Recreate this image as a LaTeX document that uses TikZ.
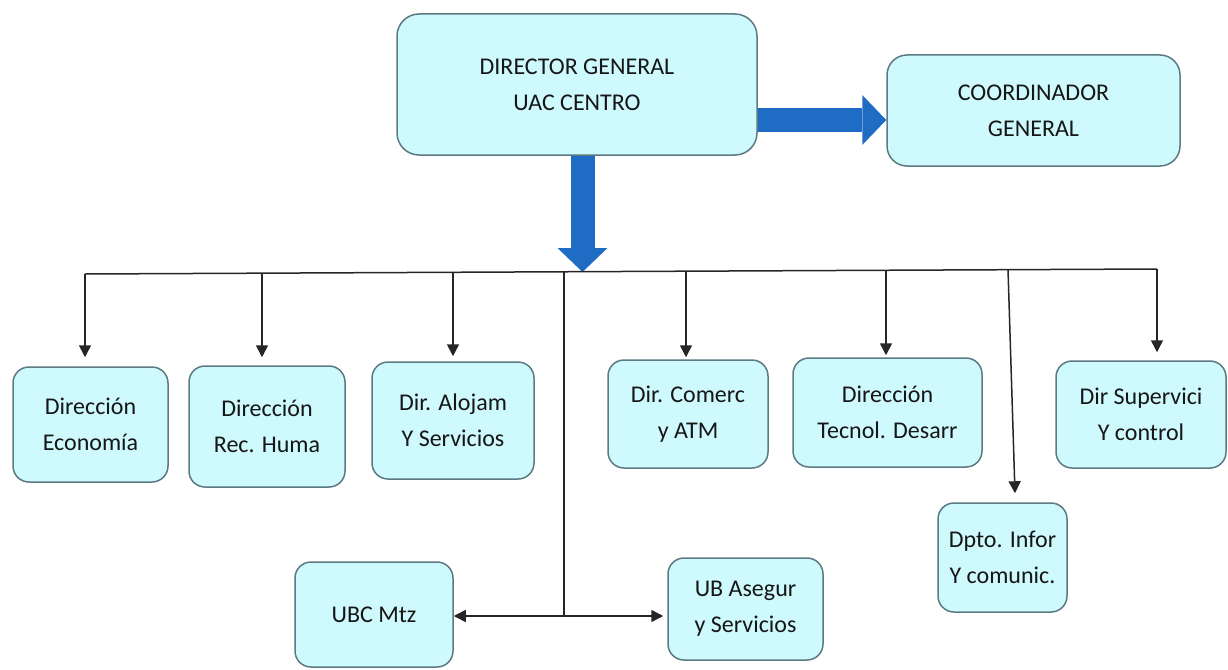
\documentclass[tikz,border=0pt]{standalone}
\usepackage{fontspec}
\setmainfont{Carlito}
\usetikzlibrary{arrows.meta}
\definecolor{boxfill}{RGB}{206,249,253}
\definecolor{boxline}{RGB}{92,122,130}
\definecolor{bigblue}{RGB}{30,108,196}
\definecolor{inktext}{RGB}{22,22,22}
\begin{document}
\begin{tikzpicture}[x=1pt,y=-1pt,
  unit/.style={draw=boxline, line width=1.5pt, fill=boxfill, rounded corners=16pt,
    align=center, inner sep=0pt, font=\fontsize{24}{36}\selectfont, text=inktext},
  link/.style={line width=1.5pt, draw=black!85},
  arr/.style={link, -{Triangle[length=12pt,width=12pt]}},
  bigarrow/.style={draw=bigblue, line width=24pt,
    -{Triangle[length=24pt,width=50pt,line width=0pt]}}
]
\useasboundingbox (0,0) rectangle (1228,669);

% top level
\node[unit, minimum width=360pt, minimum height=141pt, rounded corners=22pt] (dir) at (577,84.5) {DIRECTOR GENERAL\\UAC CENTRO};
\node[unit, minimum width=293pt, minimum height=111pt, rounded corners=20pt] (coord) at (1033.5,110.5) {COORDINADOR\\GENERAL};

% second level
\node[unit, minimum width=155pt, minimum height=115pt] (eco) at (90.5,424.5) {Dirección\\Economía};
\node[unit, minimum width=156pt, minimum height=121pt] (rrhh) at (267,426.5) {Dirección\\Rec. Huma};
\node[unit, minimum width=162pt, minimum height=117pt] (aloj) at (453,420.5) {Dir. Alojam\\Y Servicios};
\node[unit, minimum width=160pt, minimum height=108pt] (comerc) at (688,414) {Dir. Comerc\\y ATM};
\node[unit, minimum width=189pt, minimum height=109pt] (tecnol) at (887.5,412.5) {Dirección\\Tecnol. Desarr};
\node[unit, minimum width=170pt, minimum height=107pt] (superv) at (1141,414.5) {Dir Supervici\\Y control};
\node[unit, minimum width=129pt, minimum height=109pt] (dpto) at (1002.5,557.5) {Dpto. Infor\\Y comunic.};
\node[unit, minimum width=158pt, minimum height=105pt] (ubc) at (374,614.5) {UBC Mtz};
\node[unit, minimum width=155pt, minimum height=102pt] (ubas) at (745.5,609) {UB Asegur\\y Servicios};

% distribution bus
\coordinate (b1) at (85,274);
\coordinate (b2) at (262,273.2);
\coordinate (b3) at (453,272.3);
\coordinate (b4) at (564,271.8);
\coordinate (b5) at (686,271.2);
\coordinate (b6) at (886,270.3);
\coordinate (b7) at (1008,269.7);
\coordinate (b8) at (1157,269);
\coordinate (hub) at (582.5,272);
\coordinate (j) at (564,616);

% wide blue arrows
\draw[bigarrow] (dir.east |- 0,120) -- (coord.west |- 0,120);
\draw[bigarrow] (dir.south -| hub) -- (hub);

\draw[link] (b1) -- (b8);
\draw[arr, shorten >=9pt] (b1) -- (b1 |- eco.north);
\draw[arr, shorten >=8pt] (b2) -- (b2 |- rrhh.north);
\draw[arr, shorten >=5pt] (b3) -- (b3 |- aloj.north);
\draw[arr, shorten >=2pt] (b5) -- (b5 |- comerc.north);
\draw[arr, shorten >=2pt] (b6) -- (b6 |- tecnol.north);
\draw[arr, shorten >=8pt] (b8) -- (b8 |- superv.north);
\draw[arr] (b7) -- ([xshift=12.5pt,yshift=9pt]dpto.north);

% trunk to the two units below
\draw[link] (b4) -- (j);
\draw[arr] (j) -- (ubc.east |- j);
\draw[arr, shorten >=4pt] (j) -- (ubas.west |- j);
\end{tikzpicture}
\end{document}
